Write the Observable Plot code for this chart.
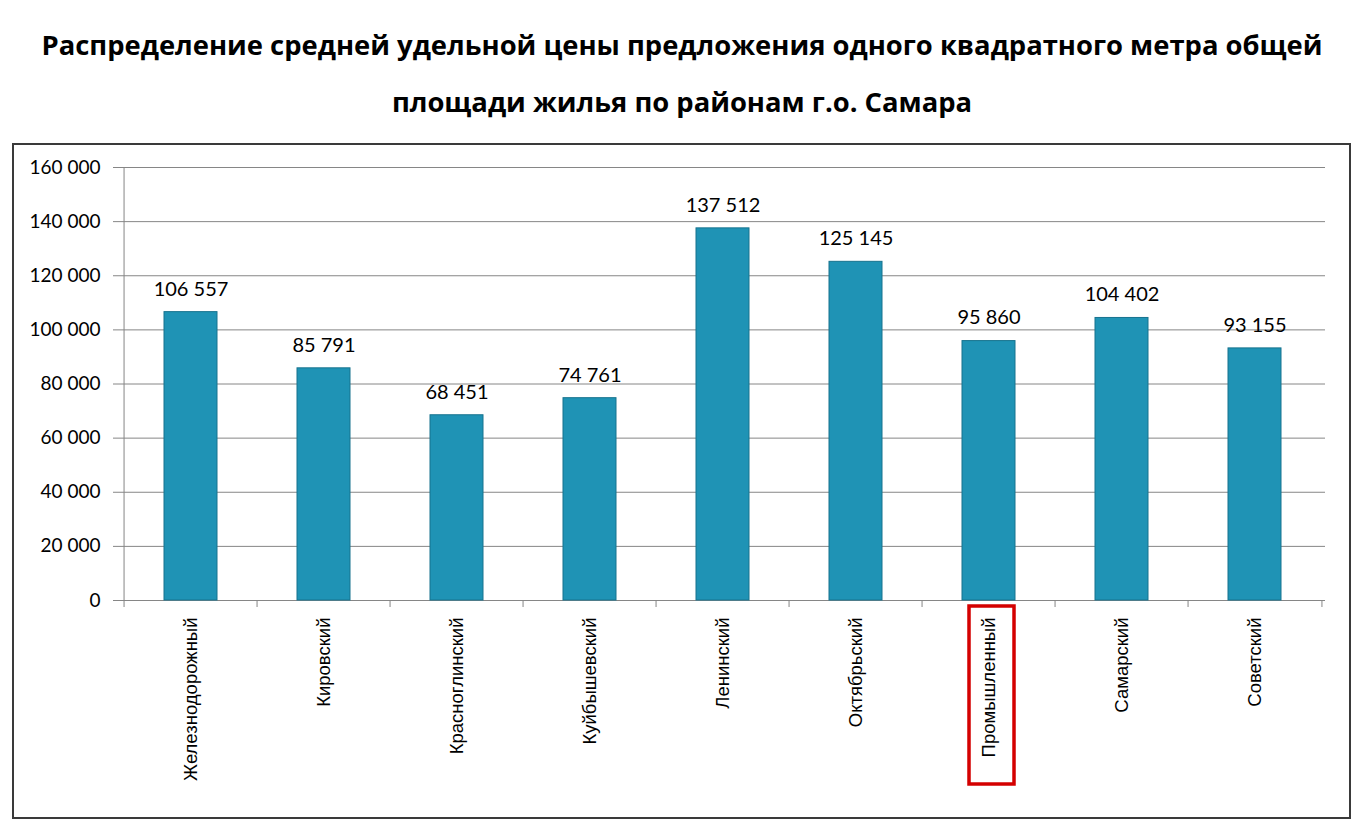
<!DOCTYPE html>
<html><head><meta charset="utf-8">
<script src="https://cdn.jsdelivr.net/npm/d3@7"></script>
<script src="https://cdn.jsdelivr.net/npm/@observablehq/plot@0.6"></script>
<style>
html,body{margin:0;padding:0;background:#fff;}
body{width:1364px;height:827px;position:relative;overflow:hidden;}
#title{position:absolute;left:0;top:16px;width:1364px;text-align:center;font-family:"Open Sans",sans-serif;font-weight:700;font-size:27.4px;line-height:57px;color:#000;}
#chart{position:absolute;left:12px;top:143px;width:1335px;height:672px;border:2px solid #3a3a3a;}
#chart svg{display:block;}
</style></head>
<body>
<div id="title">Распределение средней удельной цены предложения одного квадратного метра общей<br>площади жилья по районам г.о. Самара</div>
<div id="chart"></div>
<script>
const categories = ["Железнодорожный","Кировский","Красноглинский","Куйбышевский","Ленинский","Октябрьский","Промышленный","Самарский","Советский"];
const values = [106557, 85791, 68451, 74761, 137512, 125145, 95860, 104402, 93155];
const yTicks = [0, 20000, 40000, 60000, 80000, 100000, 120000, 140000, 160000];
const highlighted = ["Промышленный"];

const data = categories.map((c, i) => ({district: c, price: values[i]}));
const fmt = d3.formatLocale({decimal: ",", thousands: " ", grouping: [3], currency: ["", ""]}).format(",d");

const W = 1335, H = 672, mL = 106, mR = 24, mT = 22, mB = 217;
const step = (W - mL - mR) / categories.length;
const gray = "#868686";

const chart = Plot.plot({
  width: W, height: H,
  marginLeft: mL, marginRight: mR, marginTop: mT, marginBottom: mB,
  style: {fontFamily: "Lato, sans-serif", background: "white", color: "black"},
  x: {domain: categories, paddingInner: 0.6, paddingOuter: 0.3, label: null},
  y: {domain: [0, 160000], label: null},
  marks: [
    Plot.gridY(yTicks, {stroke: gray, strokeOpacity: 1, strokeWidth: 1}),
    Plot.axisY(yTicks, {tickSize: 7, tickPadding: 13, tickFormat: fmt, fontSize: 19, stroke: gray, label: null}),
    Plot.ruleX([categories[0]], {dx: -step / 2, y1: 0, y2: 160000, stroke: gray}),
    Plot.ruleY([0], {stroke: gray}),
    Plot.ruleX(categories, {dx: -step / 2, y1: 0, y2: 0, insetBottom: -7, stroke: gray}),
    Plot.ruleX([categories[categories.length - 1]], {dx: step / 2, y1: 0, y2: 0, insetBottom: -7, stroke: gray}),
    Plot.barY(data, {x: "district", y: "price", fill: "#1f93b5", stroke: "#16738e", strokeWidth: 1}),
    Plot.text(data, {x: "district", y: "price", text: d => fmt(d.price), dy: -23, fontSize: 20, fill: "black"}),
    Plot.axisX({tickRotate: -90, tickSize: 0, tickPadding: 17, fontSize: 18.5, fontFamily: "Liberation Sans, Arial, sans-serif", label: null}),
    Plot.barY(highlighted, {x: d => d, y1: 0, y2: 0, insetTop: 6, insetBottom: -184, insetLeft: 7, insetRight: 1, fill: "none", stroke: "#d40000", strokeWidth: 3.5})
  ]
});
document.getElementById("chart").appendChild(chart);
</script>
</body></html>
